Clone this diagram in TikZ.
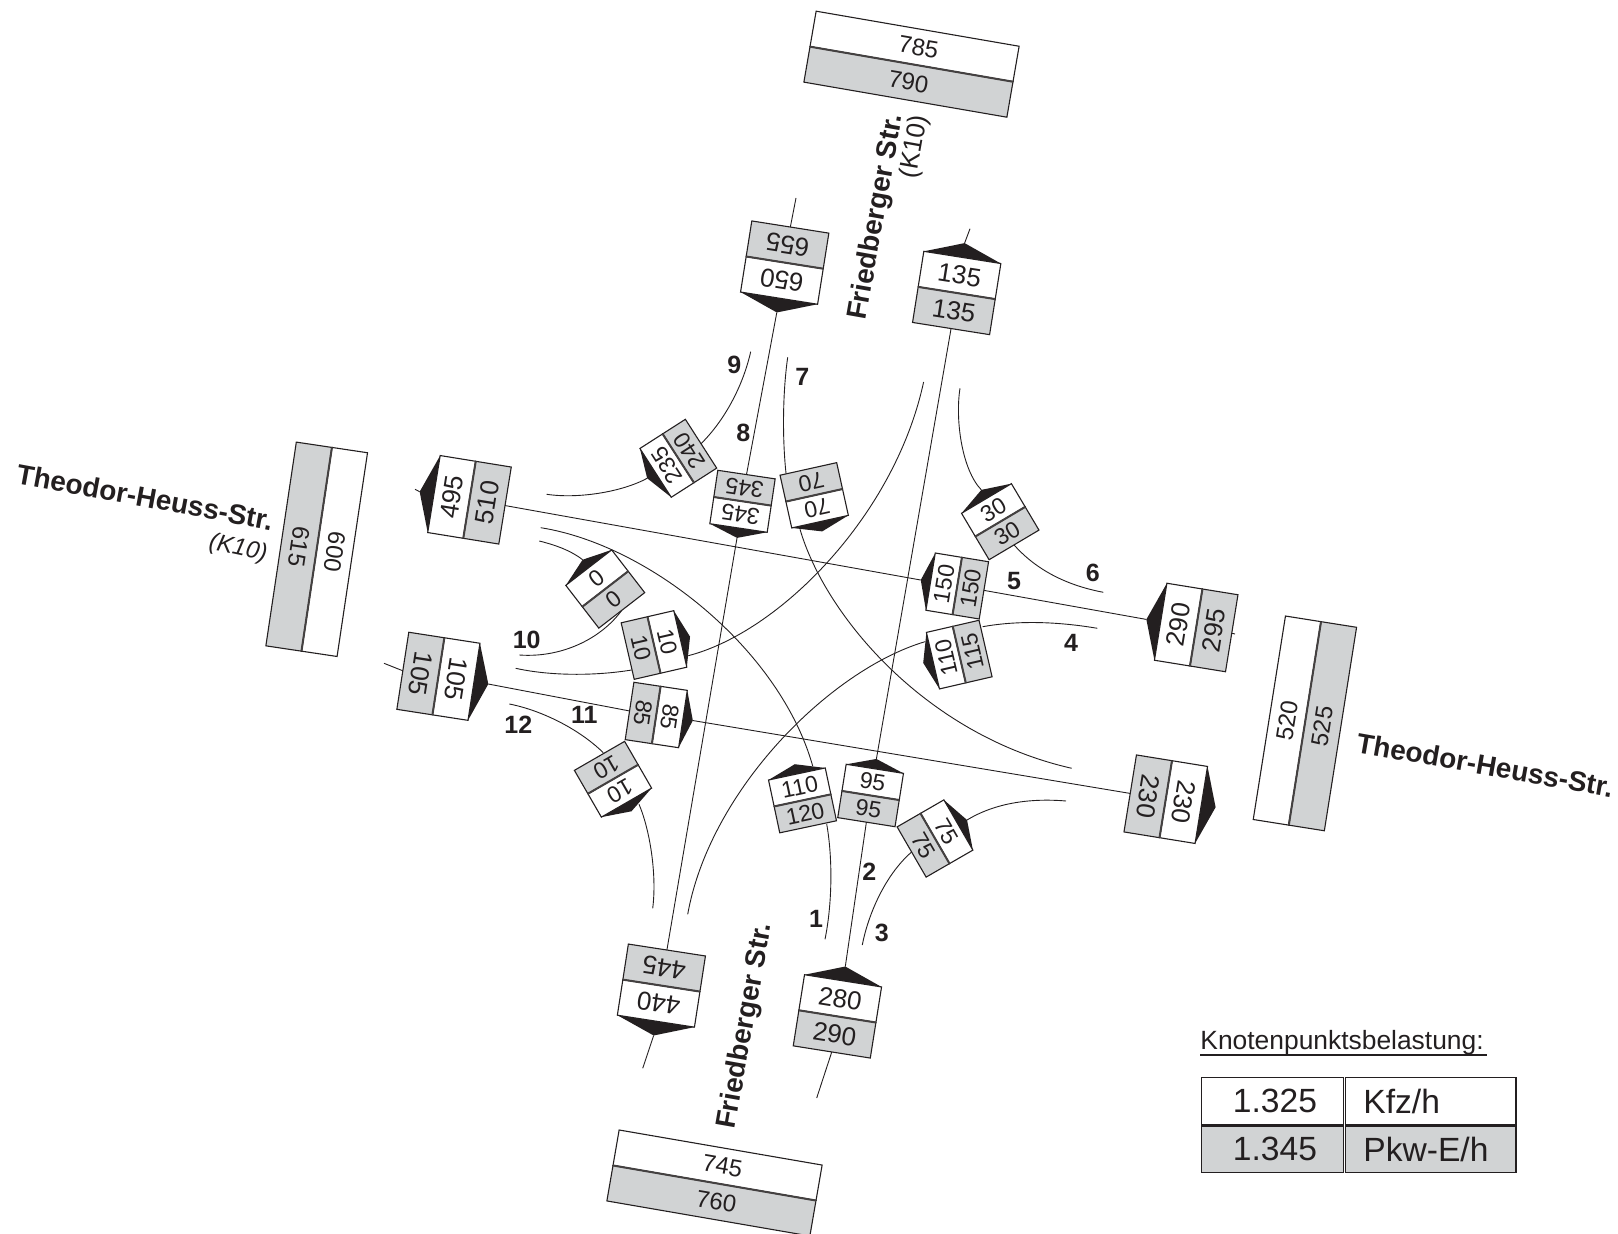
\documentclass[tikz,border=0pt]{standalone}
\usepackage{fontspec}
\setmainfont{Liberation Sans}
\definecolor{ink}{HTML}{231F20}
\definecolor{cellgrey}{HTML}{D1D3D4}
\tikzset{
  cellbase/.style={draw=ink,line width=0.55pt,inner sep=0pt,outer sep=0pt,text=ink,transform shape},
  cellwhite/.style={cellbase,fill=white},
  cellgray/.style={cellbase,fill=cellgrey},
  divider/.style={draw=ink!85,line width=1pt},
  road/.style={draw=ink,line width=0.45pt},
  numlabel/.style={font=\fontsize{12.5}{14}\selectfont\bfseries,text=ink,inner sep=0pt},
  streetlabel/.style={font=\fontsize{14}{16}\selectfont\bfseries,text=ink,inner sep=0pt},
  refnote/.style={font=\fontsize{13}{14}\selectfont,text=ink,inner sep=0pt},
  legendcell/.style={draw=ink,line width=0.6pt,inner sep=0pt,outer sep=0pt,anchor=north west,text=ink,font=\fontsize{16.8}{20}\selectfont},
}
% size presets: width, height, cap height (px of the reference), font size
\newcommand{\sizeS}{\def\bw{58}\def\bh{54}\def\bk{10}\def\bfs{11.5}}
\newcommand{\sizeM}{\def\bw{78}\def\bh{72}\def\bk{14.5}\def\bfs{13}}
\newcommand{\sizeB}{\def\bw{206}\def\bh{72}\def\bk{0}\def\bfs{12}}
% #1 size, #2 name, #3 x, #4 y, #5 rotation, #6 white text, #7 grey text
\newcommand{\tbox}[7]{%
  #1%
  \begin{scope}[shift={(#3,-#4)},rotate=#5]
    \ifdim\bk pt>0pt
      \fill[ink] (-\bw/2,\bh/2) -- (0,\bh/2+\bk) -- (\bw/2,\bh/2) -- cycle;
    \fi
    \coordinate (#2C) at (0,\bh/2+\bk);
    \node[cellwhite,minimum width=\bw*0.5pt,minimum height=\bh*0.25pt,font=\fontsize{\bfs}{\bfs}\selectfont] (#2A) at (0,\bh/4) {#6};
    \node[cellgray,minimum width=\bw*0.5pt,minimum height=\bh*0.25pt,font=\fontsize{\bfs}{\bfs}\selectfont] (#2B) at (0,-\bh/4) {#7};
    \draw[divider] (#2A.south west) -- (#2A.south east);
  \end{scope}}
\begin{document}
\begin{tikzpicture}[x=0.5pt,y=0.5pt]
\useasboundingbox (0,0) rectangle (1618,-1234);

% ---------- free ends of the connectors
\coordinate (n1) at (796,-198);
\coordinate (n2) at (642.7,-1068.3);
\coordinate (n3) at (970,-228.7);
\coordinate (n4) at (816.7,-1098);
\coordinate (n5) at (415,-489.3);
\coordinate (n6) at (1235,-634);
\coordinate (n7) at (384,-663.3);
\coordinate (t9) at (750.7,-351.7);
\coordinate (t9b) at (546.7,-494.3);
\coordinate (t7) at (787.7,-357.3);
\coordinate (t7b) at (786,-473.3);
\coordinate (t7c) at (800,-529.3);
\coordinate (t7d) at (1071.7,-768.3);
\coordinate (t10a) at (539.3,-541);
\coordinate (t10b) at (519.3,-655);
\coordinate (t1a) at (540.7,-527.7);
\coordinate (t1b) at (812.7,-766);
\coordinate (t1c) at (826.7,-824);
\coordinate (t1d) at (825,-939.3);
\coordinate (te1) at (923.6,-382);
\coordinate (te2) at (688.3,-655.7);
\coordinate (te3) at (631.7,-670);
\coordinate (te4) at (515.7,-668.3);
\coordinate (t4a) at (1097.3,-628.3);
\coordinate (t4b) at (982.7,-626.7);
\coordinate (t4c) at (925,-641.7);
\coordinate (t4d) at (687.7,-914.3);
\coordinate (t6a) at (1103.3,-592.3);
\coordinate (t6c) at (960,-388.3);
\coordinate (t3a) at (1066,-801);
\coordinate (t3c) at (862.3,-945);
\coordinate (t12a) at (509.3,-704);
\coordinate (t12b) at (603.3,-752.7);
\coordinate (t12c) at (639,-804.3);
\coordinate (t12d) at (652.7,-908.3);

% ---------- boxes
\tbox{\sizeB}{kN}{911.5}{64.2}{-9.8}{\kern4pt 785}{790}
\tbox{\sizeB}{kS}{714.5}{1183}{-9.8}{\kern5pt 745}{\kern5pt 760}
\tbox{\sizeB}{kW}{316.7}{549.3}{-98.5}{600}{615}
\tbox{\sizeB}{kE}{1304.9}{723.4}{81}{520}{525}

\tbox{\sizeM}{aa}{784.7}{262.6}{171}{650}{655}
\tbox{\sizeM}{ab}{956.7}{293}{-9}{135}{135}
\tbox{\sizeM}{ac}{661.4}{985.6}{171.2}{440}{445}
\tbox{\sizeM}{ad}{837.4}{1016.4}{-9}{280}{290}
\tbox{\sizeM}{ae}{469.5}{499.8}{80.8}{495}{510}
\tbox{\sizeM}{af}{438.4}{676.3}{-98.8}{105}{105}
\tbox{\sizeM}{ag}{1196.2}{627.5}{80.8}{290}{295}
\tbox{\sizeM}{ah}{1165.75}{799.2}{-99.2}{230}{230}

\tbox{\sizeS}{ba}{678.3}{458.3}{122.7}{235}{240}
\tbox{\sizeS}{bb}{742.5}{501.3}{171.5}{345}{345}
\tbox{\sizeS}{bc}{814.2}{495.3}{192.5}{70}{70}
\tbox{\sizeS}{bd}{1000.25}{521.7}{30.7}{30}{30}
\tbox{\sizeS}{be}{605.25}{589}{37.7}{0}{0}
\tbox{\sizeS}{bf}{654}{645}{-77}{10}{10}
\tbox{\sizeS}{bg}{656.25}{715}{-98.6}{85}{85}
\tbox{\sizeS}{bh}{957.25}{586}{80.7}{150}{150}
\tbox{\sizeS}{bi}{959.25}{654.6}{103}{110}{115}
\tbox{\sizeS}{bj}{802.5}{800.4}{12}{110}{120}
\tbox{\sizeS}{bk}{870.6}{795.5}{-9}{95}{95}
\tbox{\sizeS}{bl}{935}{838.5}{-60}{75}{75}
\tbox{\sizeS}{bm}{613}{779.25}{210}{10}{10}

% ---------- straight streams
\draw[road] (n1) -- (aaB.south);
\draw[road] (aaC) -- (bbB.south);
\draw[road] (bbC) -- (acB.south);
\draw[road] (acC) -- (n2);
\draw[road] (n3) -- (abC);
\draw[road] (abB.south) -- (bkC);
\draw[road] (bkB.south) -- (adC);
\draw[road] (adB.south) -- (n4);
\draw[road] (n5) -- (aeC);
\draw[road] (aeB.south) -- (bhC);
\draw[road] (bhB.south) -- (agC);
\draw[road] (agB.south) -- (n6);
\draw[road] (n7) -- (afB.south);
\draw[road] (afC) -- (bgB.south);
\draw[road] (bgC) -- (ahB.south);

% ---------- turning streams
\draw[road] (t9) .. controls (742.7,-387) and (724,-421) .. (baB.south);
\draw[road] (baC) .. controls (622,-492) and (578,-499) .. (t9b);
\draw[road] (t7) .. controls (783,-390) and (782,-435) .. (t7b);
\draw[road] (t7c) .. controls (825,-615) and (925,-735) .. (t7d);
\draw[road] (t10a) .. controls (555,-545) and (570,-550) .. (beC);
\draw[road] (beB.south) .. controls (600,-640) and (560,-658) .. (t10b);
\draw[road] (t1a) .. controls (650,-545) and (780,-650) .. (t1b);
\draw[road] (t1c) .. controls (833,-860) and (832,-905) .. (t1d);
\draw[road] (te1) .. controls (895,-515) and (780,-632) .. (te2);
\draw[road] (te3) .. controls (595,-676) and (550,-676) .. (te4);
\draw[road] (t4a) .. controls (1060,-622) and (1020,-620) .. (t4b);
\draw[road] (t4c) .. controls (830,-670) and (710,-790) .. (t4d);
\draw[road] (t6a) .. controls (1070,-586) and (1038,-572) .. (bdB.south);
\draw[road] (bdC) .. controls (962,-470) and (955,-420) .. (t6c);
\draw[road] (t3a) .. controls (1030,-798) and (995,-803) .. (blC);
\draw[road] (blB.south) .. controls (885,-875) and (868,-915) .. (t3c);
\draw[road] (t12a) .. controls (540,-710) and (578,-728) .. (t12b);
\draw[road] (t12c) .. controls (650,-830) and (657,-875) .. (t12d);

% ---------- stream numbers
\node[numlabel] (l1) at (816,-919) {1};
\node[numlabel] (l2) at (869.3,-871.7) {2};
\node[numlabel] (l3) at (881.7,-933.3) {3};
\node[numlabel] (l4) at (1071,-643.3) {4};
\node[numlabel] (l5) at (1014,-580.7) {5};
\node[numlabel] (l6) at (1092.7,-572.7) {6};
\node[numlabel] (l7) at (802.3,-376.7) {7};
\node[numlabel] (l8) at (743.3,-432.7) {8};
\node[numlabel] (l9) at (734.3,-365) {9};
\node[numlabel] (l10) at (526.7,-640) {10};
\node[numlabel] (l11) at (584.3,-715) {11};
\node[numlabel] (l12) at (518.3,-725) {12};

% ---------- street names
\node[streetlabel,rotate=-10.5] (s1) at (145,-497) {Theodor-Heuss-Str.};
\node[refnote,rotate=-12,font=\fontsize{12}{14}\selectfont\itshape] (s2) at (238,-549) {(K10)};
\node[streetlabel,rotate=-10] (s3) at (1485,-765) {Theodor-Heuss-Str.};
\node[streetlabel,rotate=80] (s4) at (877,-217) {Friedberger Str.};
\node[refnote,rotate=80] (s5) at (915,-147) {(K10)};
\node[streetlabel,rotate=80] (s6) at (746,-1026) {Friedberger Str.};

% ---------- legend
\node[anchor=base west,inner sep=0pt,text=ink,font=\fontsize{13.2}{15}\selectfont] (lt) at (1200,-1050) {Knotenpunktsbelastung:};
\draw[ink,line width=0.7pt] (lt.base west)++(0,-5) -- ++(287,0);
\node[legendcell,fill=white,minimum width=71pt,minimum height=23.85pt] (c1) at (1201.7,-1077.3) {\kern2.3pt 1.325};
\node[legendcell,fill=white,minimum width=85.1pt,minimum height=23.85pt] (c2) at (1345.7,-1077.3) {\phantom{Kfz/h}};
\node[anchor=west,inner sep=0pt,text=ink,font=\fontsize{16.8}{20}\selectfont] (c2t) at (1363,-1101) {Kfz/h};
\node[legendcell,fill=cellgrey,minimum width=71pt,minimum height=23.2pt] (c3) at (1201.7,-1126) {\kern2.3pt 1.345};
\node[legendcell,fill=cellgrey,minimum width=85.1pt,minimum height=23.2pt] (c4) at (1345.7,-1126) {\phantom{Pkw-E/h}};
\node[anchor=west,inner sep=0pt,text=ink,font=\fontsize{16.8}{20}\selectfont] (c4t) at (1363,-1149) {Pkw-E/h};
\end{tikzpicture}
\end{document}
